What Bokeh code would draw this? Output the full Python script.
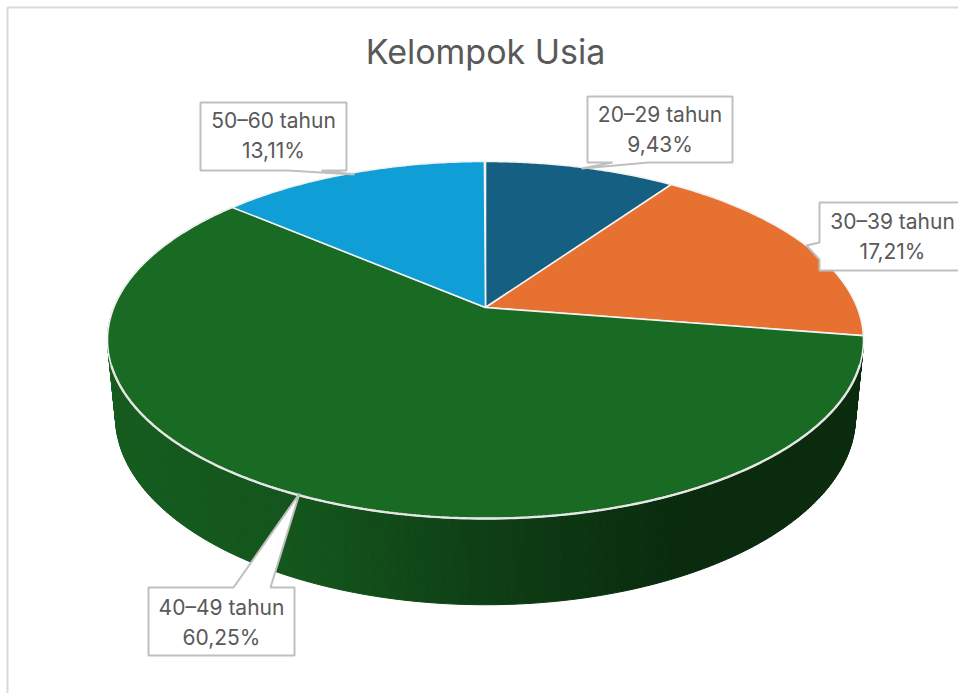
import numpy as np
from bokeh.plotting import figure
from bokeh.embed import file_html
from bokeh.resources import INLINE
from bokeh.core.properties import value

title = "Kelompok Usia"
categories = ["20–29 tahun", "30–39 tahun", "40–49 tahun", "50–60 tahun"]
shares = [9.43, 17.21, 60.25, 13.11]
colors = ["#156082", "#E77130", "#196B24", "#0F9ED5"]

# --- layout of the tilted disc (page pixels) ---
CX, APEX_Y = 485.0, 307.0
K = -0.182
BX, AY = 371.7, 172.6
BX2, AY2, APEX2_Y = 363.8, 181.8, 382.0


def warp(deg):
    t = np.radians(deg)
    return deg + 1.56 * np.sin(t) + 2.69 * np.sin(2 * t) - 2.32 * np.sin(3 * t)


def top(deg):
    t = np.radians(warp(np.asarray(deg, dtype=float)))
    u, v = np.sin(t), -np.cos(t)
    w = 1 + K * v
    return CX + BX * u / w, APEX_Y + AY * v / w


def bottom(deg):
    t = np.radians(warp(np.asarray(deg, dtype=float)))
    u, v = np.sin(t), -np.cos(t)
    w = 1 + K * v
    return CX + BX2 * u / w, APEX2_Y + AY2 * v / w


def shade(hex_color, f):
    r, g, b = (int(hex_color[i:i + 2], 16) for i in (1, 3, 5))
    return "#%02x%02x%02x" % (int(r * f), int(g * f), int(b * f))


p = figure(width=958, height=693, x_range=(0, 958), y_range=(693, 0),
           x_axis_location=None, y_axis_location=None, toolbar_location=None,
           tools="", output_backend="svg", min_border=0,
           outline_line_color=None, background_fill_color="white",
           border_fill_color="white")
p.grid.visible = False

# outer frame (top and left edges visible)
p.line([7, 7, 958], [693, 7, 7], line_color="#d9d9d9", line_width=2)

edges = np.concatenate([[0], np.cumsum(shares)]) * 3.6

# wall of the large slice, in narrow shaded strips
wall_i = int(np.argmax(shares))
a0, a1 = edges[wall_i], edges[wall_i + 1]
steps = np.arange(a0, a1, 1.0)
sx, sy, sc = [], [], []
for a in steps:
    b = min(a + 1.0, a1)
    x1, y1 = top(a)
    x2, y2 = top(b)
    x3, y3 = bottom(b)
    x4, y4 = bottom(a)
    f = np.interp((x1 + x2) / 2, [110, 300, 400, 485, 600, 680, 860],
                  [0.86, 0.80, 0.69, 0.59, 0.48, 0.41, 0.41])
    sx.append([x1, x2, x3, x4])
    sy.append([y1, y2, y3, y4])
    sc.append(shade(colors[wall_i], f))
p.patches(sx, sy, fill_color=sc, line_color=sc, line_width=1)

# top face
for i, c in enumerate(colors):
    aa = np.arange(edges[i], edges[i + 1] + 0.25, 0.5)
    x, y = top(aa)
    p.patch(np.concatenate([[CX], x]), np.concatenate([[APEX_Y], y]),
            fill_color=c, line_color="#f2f2f2", line_width=1.6)

# pale rim where the top face meets the wall
aa = np.arange(a0, a1 + 0.25, 0.5)
rx, ry = top(aa)
keep = ry >= 364
p.line(rx[keep], ry[keep], line_color="#e6e6e6", line_width=2.4)

# callouts: (box left, top, right, bottom), pointer polygon, label centre
GREY = "#bfbfbf"
callouts = [
    ((587, 96, 732, 162), [(648, 162), (581, 168), (612, 162)], 'b', 659.5, 114, 144),
    ((819, 202, 962, 270), [(819, 259), (806, 245), (819, 242)], 'l', 892, 221, 251),
    ((148, 587, 294, 655), [(270, 587), (299, 493), (233, 587)], 't', 221, 607, 637),
    ((200, 102, 346, 170), [(321, 170), (354, 174), (287, 170)], 'b', 273, 120, 150),
]
order = [0, 1, 2, 3]
for i, (box, tip, side, tx, ty1, ty2) in zip(order, callouts):
    l, t, r, b = box
    if side == 'b':
        pts = [(l, t), (r, t), (r, b)] + tip + [(l, b)]
    elif side == 'l':
        pts = [(l, t), (r, t), (r, b), (l, b)] + tip
    else:
        pts = [(l, t)] + tip[::-1] + [(r, t), (r, b), (l, b)]
    p.patch([q[0] for q in pts], [q[1] for q in pts], fill_color="white",
            line_color=GREY, line_width=2)
    pct = f"{shares[i]:.2f}%".replace(".", ",")
    p.text([tx, tx], [ty1, ty2], text=[categories[i], pct],
           text_font=value("Inter"), text_font_size="21px", text_color="#595959",
           text_align="center", text_baseline="middle")

p.text([485], [51], text=[title], text_font=value("Inter"), text_font_size="34px",
       text_color="#595959", text_align="center", text_baseline="middle")

open("out.html", "w").write(file_html(p, INLINE))
